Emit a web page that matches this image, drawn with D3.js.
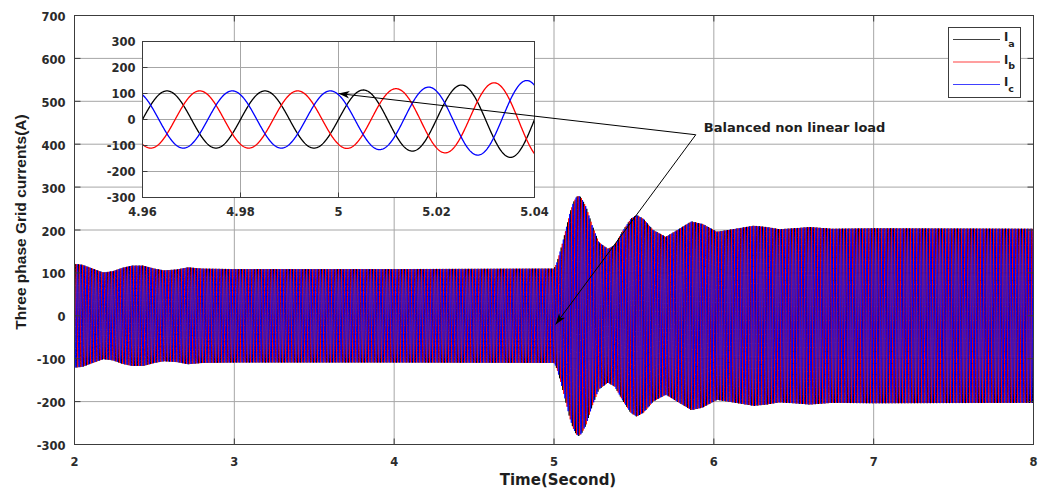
<!DOCTYPE html>
<html>
<head>
<meta charset="utf-8">
<script src="https://cdn.jsdelivr.net/npm/d3@7"></script>
<style>
  html, body { margin: 0; padding: 0; background: #fff; }
  svg { display: block; }
  .tick-label { font-family: "DejaVu Sans", sans-serif; font-weight: bold; font-size: 11.5px; fill: #2b2b2b; }
</style>
</head>
<body>
<svg id="chart" width="1043" height="492"></svg>
<script>
// ---- data ----
// grid frequency (Hz) and phase offsets of Ia, Ib, Ic (degrees)
const freqHz = 50;
const phaseNames = ["a", "b", "c"];
const phaseShiftDeg = [0, -120, 120];
const phaseColors = ["#000000", "#ff0000", "#0000ff"];

// peak current envelope (A) versus time (s)
const envTime = [2.00, 2.05, 2.10, 2.18, 2.24, 2.30, 2.36, 2.43, 2.50, 2.56, 2.64, 2.71, 2.80, 3.00, 4.00, 4.96, 5.00,
                 5.01, 5.02, 5.03, 5.04, 5.06, 5.08, 5.10, 5.12, 5.14, 5.155, 5.17, 5.20, 5.24, 5.28, 5.337, 5.38,
                 5.43, 5.48, 5.517, 5.56, 5.62, 5.70, 5.78, 5.86, 5.93, 6.02, 6.12, 6.25, 6.33, 6.41, 6.50, 6.60,
                 6.74, 7.00, 8.00];
const envAmp  = [121, 119, 112, 101, 104, 112, 117, 117, 110, 106, 108, 113, 110, 109, 109, 110, 110,
                 117, 126, 139, 152, 180, 210, 240, 263, 277, 280, 276, 255, 210, 172, 156, 165,
                 198, 226, 235, 226, 200, 184, 202, 220, 214, 196, 202, 210, 207, 202, 204, 207,
                 203, 204, 203];

// axes ticks
const mainXTicks = [2, 3, 4, 5, 6, 7, 8];
const mainYTicks = [-300, -200, -100, 0, 100, 200, 300, 400, 500, 600, 700];
const insetXTicks = [4.96, 4.98, 5.00, 5.02, 5.04];
const insetXLabels = ["4.96", "4.98", "5", "5.02", "5.04"];
const insetYTicks = [-300, -200, -100, 0, 100, 200, 300];

const annotationText = "Balanced non linear load";
const xTitle = "Time(Second)";
const yTitle = "Three phase Grid currents(A)";

// ---- scales ----
const svg = d3.select("#chart");
const x = d3.scaleLinear().domain([2, 8]).range([74.5, 1033.5]);
const y = d3.scaleLinear().domain([-300, 700]).range([444.5, 15.5]);
const ix = d3.scaleLinear().domain([4.96, 5.04]).range([142.5, 534.5]);
const iy = d3.scaleLinear().domain([-300, 300]).range([197.5, 41.5]);
const envelope = d3.scaleLinear().domain(envTime).range(envAmp).clamp(true);

function phaseCurrent(t, k) {
  return envelope(t) * Math.sin(2 * Math.PI * freqHz * t + phaseShiftDeg[k] * Math.PI / 180);
}
function sampleSeries(t0, t1, dt, k) {
  const n = Math.round((t1 - t0) / dt);
  return d3.range(n + 1).map(i => { const t = t0 + i * dt; return [t, phaseCurrent(t, k)]; });
}

const gridColor = "#a6a6a6";
const frameColor = "#3c3c3c";

// ---- main axes ----
const defs = svg.append("defs");
defs.append("clipPath").attr("id", "clipMain").append("rect")
  .attr("x", x.range()[0]).attr("y", y.range()[1])
  .attr("width", x.range()[1] - x.range()[0]).attr("height", y.range()[0] - y.range()[1]);
defs.append("clipPath").attr("id", "clipInset").append("rect")
  .attr("x", ix.range()[0]).attr("y", iy.range()[1])
  .attr("width", ix.range()[1] - ix.range()[0]).attr("height", iy.range()[0] - iy.range()[1]);

const gMain = svg.append("g");
gMain.append("g").selectAll("line.vx").data(mainXTicks).join("line")
  .attr("x1", d => x(d)).attr("x2", d => x(d)).attr("y1", y.range()[0]).attr("y2", y.range()[1])
  .attr("stroke", gridColor).attr("stroke-width", 1);
gMain.append("g").selectAll("line.hy").data(mainYTicks).join("line")
  .attr("y1", d => y(d)).attr("y2", d => y(d)).attr("x1", x.range()[0]).attr("x2", x.range()[1])
  .attr("stroke", gridColor).attr("stroke-width", 1);

const mainLine = d3.line().x(d => x(d[0])).y(d => y(d[1]));
const gData = gMain.append("g").attr("clip-path", "url(#clipMain)");
phaseShiftDeg.forEach((_, k) => {
  gData.append("path").datum(sampleSeries(2, 8, 0.0005, k))
    .attr("d", mainLine).attr("fill", "none")
    .attr("stroke", phaseColors[k]).attr("stroke-width", 1);
});

// frame and inward ticks
gMain.append("rect")
  .attr("x", x.range()[0]).attr("y", y.range()[1])
  .attr("width", x.range()[1] - x.range()[0]).attr("height", y.range()[0] - y.range()[1])
  .attr("fill", "none").attr("stroke", frameColor).attr("stroke-width", 1);
const tickLen = 6;
gMain.append("g").selectAll("line").data(mainXTicks).join("line")
  .attr("x1", d => x(d)).attr("x2", d => x(d)).attr("y1", y.range()[0]).attr("y2", y.range()[0] - tickLen)
  .attr("stroke", frameColor);
gMain.append("g").selectAll("line").data(mainXTicks).join("line")
  .attr("x1", d => x(d)).attr("x2", d => x(d)).attr("y1", y.range()[1]).attr("y2", y.range()[1] + tickLen)
  .attr("stroke", frameColor);
gMain.append("g").selectAll("line").data(mainYTicks).join("line")
  .attr("y1", d => y(d)).attr("y2", d => y(d)).attr("x1", x.range()[0]).attr("x2", x.range()[0] + tickLen)
  .attr("stroke", frameColor);
gMain.append("g").selectAll("line").data(mainYTicks).join("line")
  .attr("y1", d => y(d)).attr("y2", d => y(d)).attr("x1", x.range()[1]).attr("x2", x.range()[1] - tickLen)
  .attr("stroke", frameColor);

// tick labels
gMain.append("g").selectAll("text").data(mainXTicks).join("text")
  .attr("class", "tick-label").attr("text-anchor", "middle")
  .attr("x", d => x(d)).attr("y", y.range()[0] + 21).text(d => d);
gMain.append("g").selectAll("text").data(mainYTicks).join("text")
  .attr("class", "tick-label").attr("text-anchor", "end")
  .attr("x", x.range()[0] - 9).attr("y", d => y(d) + 5.5).text(d => d);

// axis titles
svg.append("text").attr("text-anchor", "middle")
  .attr("x", 558).attr("y", 485)
  .style("font-family", "DejaVu Sans, sans-serif").style("font-weight", "bold")
  .style("font-size", "15px").style("fill", "#1e1e1e").text(xTitle);
svg.append("text").attr("text-anchor", "middle")
  .attr("transform", "translate(26,222) rotate(-90)")
  .style("font-family", "Liberation Sans, Arial, sans-serif").style("font-weight", "bold")
  .style("font-size", "15.5px").style("fill", "#1e1e1e").text(yTitle);

// ---- zoomed inset ----
const gInset = svg.append("g");
gInset.append("rect")
  .attr("x", ix.range()[0]).attr("y", iy.range()[1])
  .attr("width", ix.range()[1] - ix.range()[0]).attr("height", iy.range()[0] - iy.range()[1])
  .attr("fill", "#fff");
gInset.append("g").selectAll("line").data(insetXTicks).join("line")
  .attr("x1", d => ix(d)).attr("x2", d => ix(d)).attr("y1", iy.range()[0]).attr("y2", iy.range()[1])
  .attr("stroke", gridColor);
gInset.append("g").selectAll("line").data(insetYTicks).join("line")
  .attr("y1", d => iy(d)).attr("y2", d => iy(d)).attr("x1", ix.range()[0]).attr("x2", ix.range()[1])
  .attr("stroke", gridColor);
const insetLine = d3.line().x(d => ix(d[0])).y(d => iy(d[1]));
const gInsetData = gInset.append("g").attr("clip-path", "url(#clipInset)");
phaseShiftDeg.forEach((_, k) => {
  gInsetData.append("path").datum(sampleSeries(4.96, 5.04, 0.0001, k))
    .attr("d", insetLine).attr("fill", "none")
    .attr("stroke", phaseColors[k]).attr("stroke-width", 1.3);
});
gInset.append("rect")
  .attr("x", ix.range()[0]).attr("y", iy.range()[1])
  .attr("width", ix.range()[1] - ix.range()[0]).attr("height", iy.range()[0] - iy.range()[1])
  .attr("fill", "none").attr("stroke", frameColor);
gInset.append("g").selectAll("line").data(insetXTicks).join("line")
  .attr("x1", d => ix(d)).attr("x2", d => ix(d)).attr("y1", iy.range()[0]).attr("y2", iy.range()[0] - 5)
  .attr("stroke", frameColor);
gInset.append("g").selectAll("line").data(insetYTicks).join("line")
  .attr("y1", d => iy(d)).attr("y2", d => iy(d)).attr("x1", ix.range()[0]).attr("x2", ix.range()[0] + 5)
  .attr("stroke", frameColor);
gInset.append("g").selectAll("text").data(insetXTicks).join("text")
  .attr("class", "tick-label").attr("text-anchor", "middle")
  .attr("x", d => ix(d)).attr("y", iy.range()[0] + 18).text((d, i) => insetXLabels[i]);
gInset.append("g").selectAll("text").data(insetYTicks).join("text")
  .attr("class", "tick-label").attr("text-anchor", "end")
  .attr("x", ix.range()[0] - 7).attr("y", d => iy(d) + 4.5).text(d => d);

// ---- legend ----
const legend = svg.append("g").attr("transform", "translate(948,27)");
legend.append("rect").attr("x", 0.5).attr("y", 0.5).attr("width", 72).attr("height", 70)
  .attr("fill", "#fff").attr("stroke", frameColor);
phaseNames.forEach((name, k) => {
  const ly = 12.5 + k * 22.5;
  legend.append("line").attr("x1", 5).attr("x2", 52).attr("y1", ly).attr("y2", ly)
    .attr("stroke", phaseColors[k]).attr("stroke-width", 1.2).attr("stroke-opacity", 0.75);
  const t = legend.append("text").attr("x", 56).attr("y", ly + 1.5)
    .style("font-family", "DejaVu Sans, sans-serif").style("font-weight", "bold")
    .style("font-size", "11.5px").style("fill", "#1e1e1e");
  t.append("tspan").text("I");
  t.append("tspan").attr("dy", 5.5).style("font-size", "9.5px").text(name);
});

// ---- annotation with two arrows ----
defs.append("marker").attr("id", "arrowHead")
  .attr("viewBox", "-12 -5 14 10").attr("refX", 0).attr("refY", 0)
  .attr("markerWidth", 14).attr("markerHeight", 10)
  .attr("markerUnits", "userSpaceOnUse").attr("orient", "auto")
  .append("path").attr("d", "M0,0 L-11,-3.8 L-8,0 L-11,3.8 Z").attr("fill", "#000");

const anchor = [x(5.887), y(422)];
const arrowTargets = [
  [ix(5.0), iy(100)],
  [x(5.01), y(-20)]
];
svg.append("g").selectAll("line").data(arrowTargets).join("line")
  .attr("x1", anchor[0]).attr("y1", anchor[1])
  .attr("x2", d => d[0]).attr("y2", d => d[1])
  .attr("stroke", "#000").attr("stroke-width", 1)
  .attr("marker-end", "url(#arrowHead)");
svg.append("text").attr("x", anchor[0] + 8).attr("y", anchor[1] - 3)
  .style("font-family", "DejaVu Sans, sans-serif").style("font-weight", "bold")
  .style("font-size", "13px").style("fill", "#1e1e1e").text(annotationText);
</script>
</body>
</html>
